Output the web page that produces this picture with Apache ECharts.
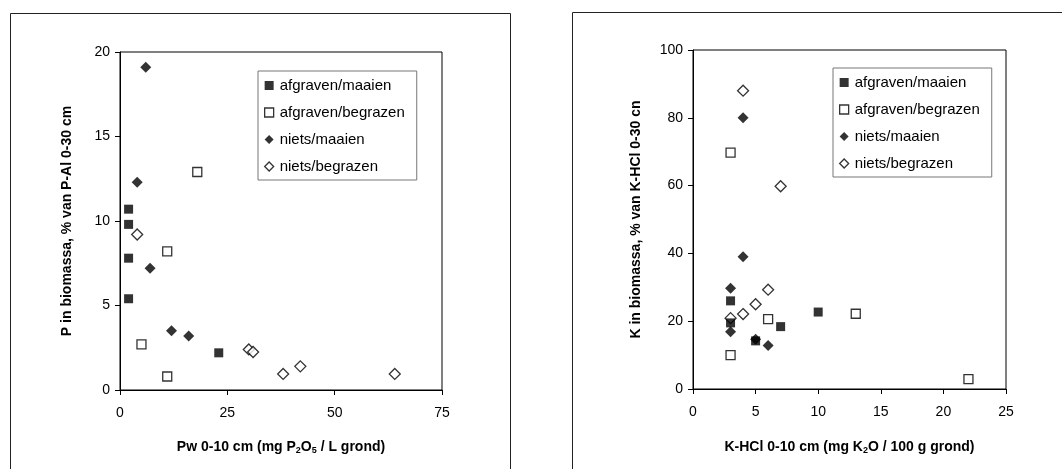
<!DOCTYPE html>
<html>
<head>
<meta charset="utf-8">
<script src="https://cdn.jsdelivr.net/npm/echarts@6/dist/echarts.min.js"></script>
<style>
html,body{margin:0;padding:0;background:#fff;}
#c{width:1062px;height:469px;}
</style>
</head>
<body>
<div id="c"></div>
<script>
// ---- Data: left chart (Pw vs P in biomassa) ----
const seriesNames = ['afgraven/maaien', 'afgraven/begrazen', 'niets/maaien', 'niets/begrazen'];
const leftAfgMaaien   = [[2, 10.7], [2, 9.8], [2, 7.8], [2, 5.4], [23, 2.2]];
const leftAfgBegrazen = [[18, 12.9], [11, 8.2], [5, 2.7], [11, 0.8]];
const leftNietsMaaien = [[6, 19.1], [4, 12.3], [7, 7.2], [12, 3.5], [16, 3.2]];
const leftNietsBegrazen = [[4, 9.2], [30, 2.4], [31, 2.25], [38, 0.95], [42, 1.4], [64, 0.95]];
// ---- Data: right chart (K-HCl vs K in biomassa) ----
const rightAfgMaaien   = [[3, 26], [3, 19.5], [5, 14.2], [7, 18.4], [10, 22.7]];
const rightAfgBegrazen = [[3, 69.7], [3, 10], [6, 20.6], [13, 22.2], [22, 2.9]];
const rightNietsMaaien = [[4, 80], [4, 39], [3, 29.7], [3, 16.9], [5, 14.7], [6, 12.8]];
const rightNietsBegrazen = [[4, 88], [7, 59.8], [6, 29.3], [5, 25], [4, 22.1], [3, 20.9]];
// ---- Axis ticks ----
const leftX = {min: 0, max: 75, interval: 25};
const leftY = {min: 0, max: 20, interval: 5};
const rightX = {min: 0, max: 25, interval: 5};
const rightY = {min: 0, max: 100, interval: 20};

const FONT = 'Liberation Sans, Arial, sans-serif';
const styles = [
  {symbol: 'rect', size: 9, itemStyle: {color: '#000', borderColor: '#000', borderWidth: 0}},
  {symbol: 'rect', size: 9, itemStyle: {color: '#fff', borderColor: '#000', borderWidth: 1.3}},
  {symbol: 'diamond', size: 11, itemStyle: {color: '#000', borderColor: '#000', borderWidth: 0}},
  {symbol: 'diamond', size: 11, itemStyle: {color: '#fff', borderColor: '#000', borderWidth: 1.3}}
];
const leftData = [leftAfgMaaien, leftAfgBegrazen, leftNietsMaaien, leftNietsBegrazen];
const rightData = [rightAfgMaaien, rightAfgBegrazen, rightNietsMaaien, rightNietsBegrazen];

function mkSeries(dataSets, idx) {
  return dataSets.map((d, i) => ({
    name: seriesNames[i], type: 'scatter', xAxisIndex: idx, yAxisIndex: idx,
    symbol: styles[i].symbol, symbolSize: styles[i].size, itemStyle: styles[i].itemStyle,
    data: d, animation: false, z: 3 + (i === 2 || i === 0 ? 1 : 0)
  }));
}
function mkLegend(left, top) {
  return {
    orient: 'vertical', left: left, top: top,
    backgroundColor: '#fff', borderColor: '#777', borderWidth: 1,
    padding: [6, 12, 5, 6], itemGap: 10, itemWidth: 9, itemHeight: 9,
    textStyle: {fontFamily: FONT, fontSize: 15, color: '#000', padding: [0, 0, 0, 1], lineHeight: 17},
    selectedMode: false,
    data: seriesNames.map((n, i) => ({name: n, icon: styles[i].symbol, itemStyle: styles[i].itemStyle}))
  };
}
const axisCommon = {
  axisLine: {show: true, onZero: false, lineStyle: {color: '#000', width: 1}},
  axisTick: {show: true, inside: false, length: 5, lineStyle: {color: '#000'}},
  splitLine: {show: false},
  axisLabel: {fontFamily: FONT, fontSize: 14, color: '#000'}
};
const nameStyle = {fontFamily: FONT, fontSize: 14, fontWeight: 'bold', color: '#000'};
const richStyle = {
  a: {fontFamily: FONT, fontSize: 14, fontWeight: 'bold', color: '#000'},
  s: {fontFamily: FONT, fontSize: 9, fontWeight: 'bold', color: '#000', verticalAlign: 'bottom', padding: [6, 0, 0, 0]}
};

const option = {
  backgroundColor: '#fff',
  animation: false,
  graphic: [
    {type: 'rect', shape: {x: 10.5, y: 13.5, width: 500, height: 480}, style: {fill: 'none', stroke: '#222', lineWidth: 1}, z: -1},
    {type: 'rect', shape: {x: 572.5, y: 12.5, width: 500, height: 480}, style: {fill: 'none', stroke: '#222', lineWidth: 1}, z: -1}
  ],
  grid: [
    {left: 120, top: 52, width: 322, height: 338, show: true, borderColor: '#000', borderWidth: 1, backgroundColor: 'transparent'},
    {left: 693, top: 50, width: 313, height: 339, show: true, borderColor: '#000', borderWidth: 1, backgroundColor: 'transparent'}
  ],
  legend: [mkLegend(258, 71), mkLegend(833, 68)],
  xAxis: [
    Object.assign({}, axisCommon, {type: 'value', gridIndex: 0, min: leftX.min, max: leftX.max, interval: leftX.interval,
      axisLabel: Object.assign({}, axisCommon.axisLabel, {margin: 16}),
      name: '{a|Pw 0-10 cm (mg P}{s|2}{a|O}{s|5}{a| / L grond)}', nameLocation: 'middle', nameGap: 50,
      nameTextStyle: Object.assign({}, nameStyle, {rich: richStyle})}),
    Object.assign({}, axisCommon, {type: 'value', gridIndex: 1, min: rightX.min, max: rightX.max, interval: rightX.interval,
      axisLabel: Object.assign({}, axisCommon.axisLabel, {margin: 16}),
      name: '{a|K-HCl 0-10 cm (mg K}{s|2}{a|O / 100 g grond)}', nameLocation: 'middle', nameGap: 51,
      nameTextStyle: Object.assign({}, nameStyle, {rich: richStyle})})
  ],
  yAxis: [
    Object.assign({}, axisCommon, {type: 'value', gridIndex: 0, min: leftY.min, max: leftY.max, interval: leftY.interval,
      axisLabel: Object.assign({}, axisCommon.axisLabel, {margin: 10}),
      name: 'P in biomassa, % van P-Al 0-30 cm', nameLocation: 'middle', nameGap: 46, nameRotate: 90,
      nameTextStyle: nameStyle}),
    Object.assign({}, axisCommon, {type: 'value', gridIndex: 1, min: rightY.min, max: rightY.max, interval: rightY.interval,
      axisLabel: Object.assign({}, axisCommon.axisLabel, {margin: 10}),
      name: 'K in biomassa, % van K-HCl 0-30 cn', nameLocation: 'middle', nameGap: 50, nameRotate: 90,
      nameTextStyle: nameStyle})
  ],
  series: mkSeries(leftData, 0).concat(mkSeries(rightData, 1))
};
const chart = echarts.init(document.getElementById('c'), null, {renderer: 'canvas'});
chart.setOption(option);
</script>
</body>
</html>
